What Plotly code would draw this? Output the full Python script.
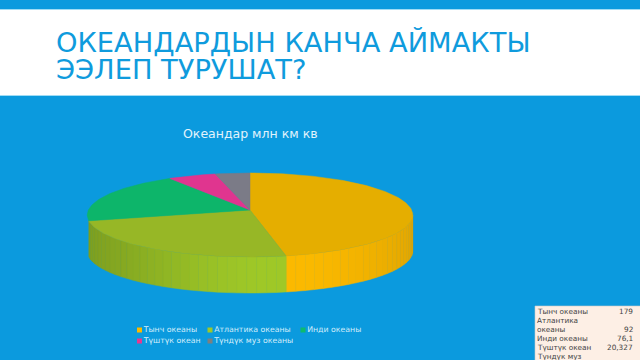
import math
import plotly.graph_objects as go

categories = ["Тынч океаны", "Атлантика океаны", "Инди океаны", "Түштүк океан", "Түндүк муз океаны"]
values = [179, 92, 76.1, 20.327, 14.75]
value_labels = ["179", "92", "76,1", "20,327", ""]
top_colors = ["#e5ae00", "#97b726", "#0db56a", "#e0358f", "#7b7b87"]
wall_colors = [(252, 186, 0), (160, 201, 40), (13, 180, 105), (224, 53, 143), (123, 123, 135)]
legend_colors = ["#fbb900", "#9fc828", "#0dbb6e", "#e8388f", "#7f7f7f"]
title_lines = ["ОКЕАНДАРДЫН КАНЧА АЙМАКТЫ", "ЭЭЛЕП ТУРУШАТ?"]
chart_title = "Океандар млн км кв"
table_rows = [["Тынч океаны"], ["Атлантика", "океаны"], ["Инди океаны"], ["Түштүк океан"], ["Түндүк муз", "океаны"]]

BG = "#0b9ade"
CX, CY, R, RY, P, DEPTH = 250, 210, 161.6, 41.4, 0.119, 36


def project(deg):
    t = math.radians(deg)
    s = 1 / (1 + P * math.cos(t))
    return CX + R * math.sin(t) * s, CY - RY * math.cos(t) * s


def arc(a, b, step=1.0):
    n = max(2, int(abs(b - a) / step) + 1)
    return [a + (b - a) * i / (n - 1) for i in range(n)]


fig = go.Figure()

total = sum(values)
bounds = [0]
for v in values:
    bounds.append(bounds[-1] + v / total * 360)

# side walls: front half only, up to the end of the second slice
for i, v in enumerate(values):
    a, b = bounds[i], bounds[i + 1]
    lo, hi = max(a, 96.8), min(b, bounds[2])
    if lo >= hi:
        continue
    angs = arc(lo, hi, 3)
    for u, w in zip(angs[:-1], angs[1:]):
        mid = (u + w) / 2
        if mid < 170:
            shade = 0.89 + 0.11 * math.exp(-((mid - 170) / 45) ** 2)
        else:
            shade = 0.78 + 0.22 * math.exp(-((mid - 170) / 50) ** 2)
        r, g, bl = [int(c * shade) for c in wall_colors[i]]
        pts = [project(d) for d in arc(u, w, 1)]
        xs = [p[0] for p in pts] + [p[0] for p in reversed(pts)] + [pts[0][0]]
        ys = [p[1] for p in pts] + [p[1] + DEPTH for p in reversed(pts)] + [pts[0][1]]
        col = f"rgb({r},{g},{bl})"
        fig.add_trace(go.Scatter(x=xs, y=ys, mode="lines", fill="toself", fillcolor=col,
                                 line=dict(color=col, width=0.5), hoverinfo="skip", showlegend=False))

# top faces
for i, v in enumerate(values):
    pts = [project(d) for d in arc(bounds[i], bounds[i + 1], 1)]
    xs = [CX] + [p[0] for p in pts] + [CX]
    ys = [CY] + [p[1] for p in pts] + [CY]
    fig.add_trace(go.Scatter(x=xs, y=ys, mode="lines", fill="toself", fillcolor=top_colors[i],
                             line=dict(color=top_colors[i], width=0.5), name=categories[i],
                             hoverinfo="name", showlegend=False))

# legend
legend_pos = [(139.5, 330), (210, 330), (303, 330), (139.5, 341), (210, 341)]
for c, col, (lx, ly) in zip(categories, legend_colors, legend_pos):
    fig.add_trace(go.Scatter(x=[lx], y=[ly], mode="markers+text", text=[c], textposition="middle right",
                             marker=dict(symbol="square", size=5, color=col),
                             textfont=dict(family="DejaVu Sans", size=7.8, color="#d5eefb"),
                             hoverinfo="skip", showlegend=False))

shapes = [
    dict(type="rect", xref="x", yref="y", x0=-2, x1=642, y0=9.5, y1=95.5, fillcolor="white",
         line=dict(color="#9fdcf5", width=1), layer="below"),
    dict(type="rect", xref="x", yref="y", x0=535, x1=642, y0=306, y1=362, fillcolor="#fdefe5",
         line=dict(color="#c9c9c9", width=0.6), layer="above"),
]

annotations = []


def text(x, y, s, size, color, anchor="left"):
    annotations.append(dict(x=x, y=y, xref="x", yref="y", text=s, showarrow=False, xanchor=anchor,
                            yanchor="middle", align=anchor, borderpad=0,
                            font=dict(family="DejaVu Sans", size=size, color=color)))


text(55, 42.5, title_lines[0], 27.3, "#0f9bdd")
text(55, 69.5, title_lines[1], 27.3, "#0f9bdd")
text(250, 133, chart_title, 12.5, "#e2f3fc", "center")

y = 311
line_h = 9
for row, label in zip(table_rows, value_labels):
    for ln in row:
        if y < 360:
            text(536, y, ln, 7.3, "#444444")
        y += line_h
    if label:
        text(633.5, y - line_h, label, 7.3, "#444444", "right")

fig.update_layout(
    width=640, height=360, autosize=False, margin=dict(l=0, r=0, t=0, b=0),
    paper_bgcolor=BG, plot_bgcolor=BG, showlegend=False,
    xaxis=dict(range=[0, 640], visible=False, fixedrange=True),
    yaxis=dict(range=[360, 0], visible=False, fixedrange=True),
    shapes=shapes, annotations=annotations,
)
fig.write_html("out.html", config=dict(displayModeBar=False),
               post_script="document.body.style.margin='0';document.documentElement.style.overflow='hidden';")
